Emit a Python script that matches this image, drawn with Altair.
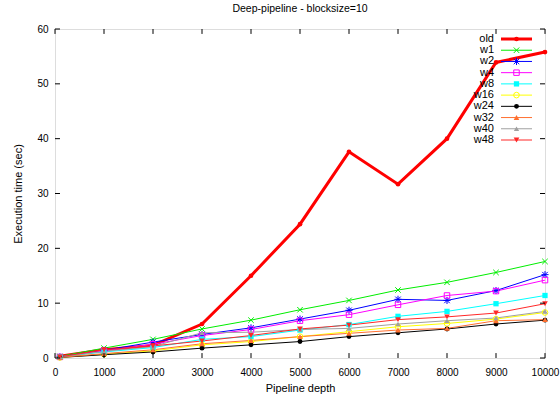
import altair as alt
import pandas as pd

depth = [100, 1000, 2000, 3000, 4000, 5000, 6000, 7000, 8000, 9000, 10000]
series = ["old", "w1", "w2", "w4", "w8", "w16", "w24", "w32", "w40", "w48"]
values = {
    "old": [0.3, 1.5, 2.3, 6.2, 15.0, 24.4, 37.6, 31.7, 40.0, 53.9, 55.8],
    "w1":  [0.3, 1.8, 3.4, 5.3, 6.9, 8.8, 10.5, 12.4, 13.8, 15.6, 17.6],
    "w2":  [0.2, 1.4, 2.9, 4.3, 5.5, 7.1, 8.7, 10.7, 10.5, 12.3, 15.2],
    "w4":  [0.2, 1.3, 2.5, 4.1, 5.2, 6.8, 7.9, 9.7, 11.4, 12.2, 14.2],
    "w8":  [0.2, 1.1, 1.9, 3.4, 3.9, 5.1, 6.1, 7.6, 8.5, 9.9, 11.4],
    "w16": [0.1, 0.7, 1.3, 2.4, 3.0, 3.9, 4.8, 5.7, 6.3, 7.1, 8.3],
    "w24": [0.1, 0.6, 1.1, 1.8, 2.4, 3.0, 3.9, 4.6, 5.3, 6.2, 6.9],
    "w32": [0.1, 0.8, 1.5, 2.6, 3.2, 3.9, 4.5, 5.1, 5.4, 6.8, 7.0],
    "w40": [0.2, 1.2, 2.1, 4.6, 4.7, 5.2, 5.4, 6.2, 6.8, 7.3, 8.5],
    "w48": [0.2, 1.5, 2.2, 3.1, 4.1, 5.3, 6.0, 7.0, 7.5, 8.2, 9.9],
}
colors = ["#ff0000", "#00ee00", "#0000ff", "#ff00ff", "#00ffff", "#ffff00",
          "#000000", "#ff7030", "#a0a0a0", "#ff2828"]
X_PATH = "M-1,-1L1,1M-1,1L1,-1"
STAR_PATH = "M-1,-1L1,1M-1,1L1,-1M0,-1.3L0,1.3M-1.3,0L1.3,0"
shapes = ["circle", X_PATH, STAR_PATH, "square", "square", "circle",
          "circle", "triangle-up", "triangle-up", "triangle-down"]
sizes = [22, 30, 30, 30, 28, 32, 24, 32, 28, 32]
widths = [3, 1, 1, 1, 1, 1, 1, 1, 1, 1]
open_series = ["w1", "w2", "w4", "w16"]

x_ticks = list(range(0, 10001, 1000))
y_ticks = list(range(0, 61, 10))

FONT = "Liberation Sans"

rows = []
for s in series:
    for d, v in zip(depth, values[s]):
        rows.append({"series": s, "depth": d, "time": v, "open": s in open_series})
df = pd.DataFrame(rows)

xs = alt.Scale(domain=[0, 10000], nice=False, zero=False)
ys = alt.Scale(domain=[0, 60], nice=False)
col = alt.Color("series:N", scale=alt.Scale(domain=series, range=colors), legend=None)
shp = alt.Shape("series:N", scale=alt.Scale(domain=series, range=shapes), legend=None)
siz = alt.Size("series:N", scale=alt.Scale(type="ordinal", domain=series, range=sizes), legend=None)
sw = alt.StrokeWidth("series:N", scale=alt.Scale(type="ordinal", domain=series, range=widths), legend=None)

x_enc = alt.X("depth:Q", scale=xs, title="Pipeline depth",
              axis=alt.Axis(values=x_ticks, ticks=False, domain=False, grid=False,
                            labelPadding=9, titlePadding=5, format="d",
                            labelFlush=False, labelOverlap=False,
                            titleFontWeight="normal"))
y_enc = alt.Y("time:Q", scale=ys, title="Execution time (sec)",
              axis=alt.Axis(values=y_ticks, ticks=False, domain=False, grid=False,
                            labelPadding=7, titlePadding=13,
                            labelFlush=False, labelOverlap=False,
                            titleFontWeight="normal"))

base = alt.Chart(df)
lines = base.mark_line().encode(x=x_enc, y=y_enc, color=col, strokeWidth=sw,
                                order=alt.Order("depth:Q"))
pts_filled = base.transform_filter("!datum.open").mark_point(filled=True, opacity=1).encode(
    x="depth:Q", y="time:Q", color=col, shape=shp, size=siz)
pts_open = base.transform_filter("datum.open").mark_point(filled=False, opacity=1, strokeWidth=1).encode(
    x="depth:Q", y="time:Q", color=col, shape=shp, size=siz)

# inward tick marks on all four sides
tx = pd.DataFrame({"t": x_ticks})
ty = pd.DataFrame({"t": y_ticks})
tick_len_y = 0.9     # in data units of y (about 5 px)
tick_len_x = 102     # in data units of x (about 5 px)
bt = alt.Chart(tx).transform_calculate(a="0", b=str(tick_len_y)).mark_rule(color="black").encode(
    x="t:Q", y="a:Q", y2="b:Q")
tt = alt.Chart(tx).transform_calculate(a="60", b=str(60 - tick_len_y)).mark_rule(color="black").encode(
    x="t:Q", y="a:Q", y2="b:Q")
lt = alt.Chart(ty).transform_calculate(a="0", b=str(tick_len_x)).mark_rule(color="black").encode(
    y="t:Q", x="a:Q", x2="b:Q")
rt = alt.Chart(ty).transform_calculate(a="10000", b=str(10000 - tick_len_x)).mark_rule(color="black").encode(
    y="t:Q", x="a:Q", x2="b:Q")

main = alt.layer(lines, pts_open, pts_filled, bt, tt, lt, rt)

# legend (top-right, inside)
leg = pd.DataFrame({"series": series, "open": [s in open_series for s in series]})
ly = alt.Y("series:N", sort=series, scale=alt.Scale(type="point", range=[10, 111], padding=0), axis=None)
leg_text = alt.Chart(leg).mark_text(align="right", baseline="middle", font=FONT, fontSize=11).encode(
    x=alt.value(439), y=ly, text="series:N")
leg_rule = alt.Chart(leg).mark_rule().encode(
    x=alt.value(446), x2=alt.value(477), y=ly, color=col, strokeWidth=sw)
leg_pf = alt.Chart(leg).transform_filter("!datum.open").mark_point(filled=True, opacity=1).encode(
    x=alt.value(461.5), y=ly, color=col, shape=shp, size=siz)
leg_po = alt.Chart(leg).transform_filter("datum.open").mark_point(filled=False, opacity=1, strokeWidth=1).encode(
    x=alt.value(461.5), y=ly, color=col, shape=shp, size=siz)
legend = alt.layer(leg_rule, leg_po, leg_pf, leg_text)

chart = alt.layer(main, legend).resolve_scale(y="independent").properties(
    width=490, height=329,
    padding={"left": 55, "top": 29, "right": 15, "bottom": 38},
    autosize=alt.AutoSizeParams(type="none"),
    title=alt.TitleParams("Deep-pipeline - blocksize=10", font=FONT, fontSize=10.5,
                          fontWeight="normal", anchor="middle", offset=10, color="black"),
).configure_view(stroke="black", strokeWidth=1.2).configure_axis(
    labelFont=FONT, labelFontSize=11, labelColor="black",
    titleFont=FONT, titleFontSize=11, titleFontWeight="normal", titleColor="black",
).configure(background="white")

chart.save("out.html", embed_options={"renderer": "svg", "actions": False})
